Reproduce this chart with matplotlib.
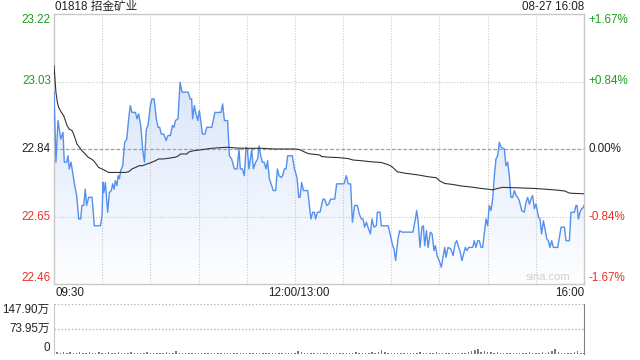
import numpy as np
import matplotlib
matplotlib.use("Agg")
import matplotlib.pyplot as plt
from matplotlib.colors import LinearSegmentedColormap

plt.rcParams['font.family'] = ['Liberation Sans', 'Noto Sans CJK SC', 'DejaVu Sans']

# ---------------- data ----------------
title = "01818 招金矿业"
stamp = "08-27 16:08"
prev_close = 22.84
y_ticks = [23.22, 23.03, 22.84, 22.65, 22.46]
pct_labels = ["+1.67%", "+0.84%", "0.00%", "-0.84%", "-1.67%"]
time_labels = ["09:30", "12:00/13:00", "16:00"]
vol_labels = ["147.90万", "73.95万", "0"]
vol_max = 147.90

# minutes of trading (0 = 09:30, 150 = 12:00/13:00, 330 = 16:00)
price_t = [0, 1.2, 2.5, 4.2, 5.6, 6.4, 7.9, 8.7, 9.5, 10.6, 11.6, 12.9, 14.1, 15.4, 16.6,
           17.4, 18.5, 19.5, 20.3, 21.6, 23.7, 25.1, 28.9, 29.9, 30.5, 31.1, 32.0, 32.6,
           33.4, 34.5, 35.7, 36.5, 37.4, 38.2, 39.2, 39.9, 40.7, 41.5, 42.8, 44.0, 45.3,
           46.5, 47.5, 48.6, 50.7, 51.7, 52.7, 54.0, 55.2, 56.3, 57.5, 58.5, 60.0, 61.0,
           62.3, 63.7, 64.8, 65.8, 66.8, 68.3, 69.8, 71.0, 72.5, 73.7, 74.7, 75.6, 77.2,
           78.5, 79.7, 82.8,
           83.6, 84.7, 85.7, 86.3, 87.4, 88.4, 89.5, 90.5, 91.5, 92.4, 94.0, 95.1, 98.2,
           100.2, 104.0, 105.0, 106.1, 108.1, 109.2, 110.6, 112.3, 114.0, 115.2, 116.0,
           117.3, 118.5, 119.6, 120.4, 121.4, 122.3, 123.1, 124.1, 125.6, 126.8, 127.7,
           128.7, 129.7, 130.8, 132.0, 133.0, 134.1, 135.5, 136.6, 138.0, 139.1, 140.1,
           141.4, 142.4, 143.4, 144.5, 145.5, 148.4, 149.7, 151.3, 152.4, 153.2, 154.2,
           155.3, 158.0, 159.0, 160.0, 161.1, 162.1, 162.9, 164.0, 165.6,
           167.5, 168.5, 169.8, 171.0, 172.3, 174.8, 176.0, 180.6, 182.0, 183.1, 184.7,
           185.8, 187.2, 188.9, 190.1, 191.4, 192.4, 193.4, 194.5, 195.5, 197.0, 198.0,
           199.2, 200.7, 201.3, 203.0, 203.8, 208.0, 209.0, 210.9, 211.7, 212.7, 214.2,
           215.2, 216.7, 223.5, 225.0, 225.8, 226.7, 227.9, 229.1, 230.0, 230.8, 231.9,
           232.9, 234.3, 235.4, 236.6, 237.5, 238.5, 240.2, 241.2, 242.2, 243.3, 244.1,
           245.3, 247.0, 248.5,
           249.7, 250.7, 251.7, 253.0, 254.0, 255.1, 256.1, 257.1, 258.2, 260.7, 261.7,
           262.7, 263.8, 264.8, 265.9, 266.9, 267.9, 269.0, 270.0, 271.0, 272.1, 273.1,
           274.2, 275.2, 276.2, 277.3, 278.3, 280.4, 281.4, 282.5, 283.5, 284.5, 285.6,
           286.6, 287.7, 288.7, 289.7, 291.2, 292.8, 293.9, 294.9, 296.0, 297.0, 298.0,
           299.1, 300.1, 300.7, 301.6, 302.6, 303.6, 304.7, 305.7, 306.8, 307.8, 308.8,
           309.9, 310.9, 313.6, 314.7, 315.7, 317.8, 318.8, 320.9, 321.9, 324.0, 325.0,
           325.7, 326.5, 327.5, 328.6, 329.8, 330.0]
price_v = [23.000, 22.803, 22.920, 22.868, 22.887, 22.803, 22.803, 22.821, 22.784, 22.803,
           22.774, 22.737, 22.709, 22.643, 22.643, 22.681, 22.681, 22.727, 22.681, 22.704,
           22.704, 22.624, 22.624, 22.652, 22.746, 22.718, 22.746, 22.709, 22.662, 22.718,
           22.723, 22.742, 22.727, 22.751, 22.737, 22.765, 22.756, 22.779, 22.793, 22.859,
           22.868, 22.925, 22.962, 22.943, 22.943, 22.925, 22.939, 22.906, 22.840, 22.803,
           22.896, 22.906, 22.962, 22.981, 22.981, 22.925, 22.901, 22.901, 22.882, 22.882,
           22.864, 22.878, 22.878, 22.906, 22.901, 22.920, 22.925, 23.028, 23.000, 23.000,
           23.000, 22.981, 22.981, 22.925, 22.962, 22.939, 22.920, 22.948, 22.915, 22.882,
           22.882, 22.901, 22.901, 22.943, 22.943, 22.967, 22.920, 22.920, 22.821, 22.812,
           22.784, 22.784, 22.840, 22.784, 22.784, 22.765, 22.845, 22.840, 22.784, 22.812,
           22.840, 22.784, 22.803, 22.812, 22.849, 22.821, 22.803, 22.803, 22.784, 22.807,
           22.756, 22.737, 22.723, 22.723, 22.784, 22.765, 22.760, 22.765, 22.784, 22.784,
           22.821, 22.821, 22.784, 22.760, 22.704, 22.704, 22.746, 22.723, 22.723, 22.681,
           22.643, 22.662, 22.662, 22.643, 22.662, 22.662,
           22.699, 22.699, 22.681, 22.685, 22.699, 22.699, 22.742, 22.742, 22.765, 22.742,
           22.742, 22.634, 22.681, 22.681, 22.657, 22.643, 22.643, 22.620, 22.634, 22.620,
           22.601, 22.643, 22.620, 22.624, 22.662, 22.662, 22.624, 22.624, 22.606, 22.568,
           22.559, 22.526, 22.587, 22.610, 22.606, 22.606, 22.643, 22.667, 22.638, 22.563,
           22.620, 22.624, 22.568, 22.610, 22.563, 22.606, 22.601, 22.554, 22.568, 22.540,
           22.521, 22.507, 22.535, 22.563, 22.535, 22.563, 22.559, 22.540,
           22.573, 22.582, 22.568, 22.549, 22.526, 22.545, 22.563, 22.554, 22.563, 22.563,
           22.582, 22.563, 22.582, 22.582, 22.563, 22.563, 22.601, 22.643, 22.624, 22.681,
           22.667, 22.699, 22.765, 22.812, 22.821, 22.859, 22.845, 22.840, 22.793, 22.803,
           22.765, 22.704, 22.704, 22.723, 22.709, 22.704, 22.695, 22.667, 22.662, 22.690,
           22.704, 22.685, 22.699, 22.709, 22.672, 22.685, 22.672, 22.648, 22.643, 22.601,
           22.638, 22.615, 22.587, 22.582, 22.563, 22.582, 22.563, 22.563, 22.591, 22.620,
           22.620, 22.582, 22.582, 22.662, 22.662, 22.681, 22.681, 22.643, 22.662, 22.672,
           22.676, 22.681]

avg_t = [0, 1.2, 2.1, 2.9, 4.6, 6.0, 7.1, 8.1, 9.5, 11.2, 12.2, 13.3, 14.3, 15.8, 17.4,
         19.5, 21.2, 23.2, 24.7, 26.2, 27.8, 29.9, 32.0, 34.0, 44.4, 46.5, 48.6, 50.7,
         53.1, 55.2, 57.9, 60.0, 63.1, 65.2, 68.3, 71.4, 75.6, 77.6, 78.7, 82.8,
         83.6, 86.8, 91.9, 98.2, 104.4, 108.6, 112.7, 118.9, 129.3, 137.6, 150.1, 153.2,
         155.3, 158.4, 165.6, 166.5, 170.6, 176.8, 183.1, 186.2, 191.4, 197.6, 203.8,
         208.0, 210.5, 213.8, 218.3, 226.7, 232.9, 238.1, 240.2, 243.3, 248.5,
         253.4, 259.6, 265.9, 270.0, 273.1, 276.2, 279.4, 286.6, 292.8, 299.1, 305.3,
         311.5, 317.8, 320.9, 324.0, 330.0]
avg_v = [23.075, 23.000, 22.971, 22.957, 22.943, 22.934, 22.920, 22.906, 22.896, 22.892,
         22.882, 22.868, 22.854, 22.845, 22.835, 22.826, 22.817, 22.812, 22.807, 22.798,
         22.788, 22.784, 22.779, 22.774, 22.774, 22.776, 22.784, 22.788, 22.793, 22.793,
         22.798, 22.801, 22.807, 22.812, 22.812, 22.814, 22.817, 22.821, 22.826, 22.826,
         22.831, 22.835, 22.838, 22.842, 22.844, 22.845, 22.843, 22.842, 22.842, 22.840,
         22.840, 22.838, 22.833, 22.827, 22.823, 22.819, 22.817, 22.816, 22.813, 22.809,
         22.807, 22.804, 22.802, 22.796, 22.790, 22.776, 22.772, 22.767, 22.762, 22.759,
         22.750, 22.743, 22.740,
         22.736, 22.733, 22.729, 22.727, 22.725, 22.729, 22.732, 22.731, 22.730, 22.729,
         22.727, 22.725, 22.722, 22.716, 22.715, 22.714]

# volume in 万, one bar per 2 minutes from 09:30
volume = [12, 5, 4, 6, 3, 5, 4, 3, 5, 4,
          3, 5, 3, 4, 6, 3, 4, 5, 3, 4,
          5, 3, 4, 3, 5, 4, 3, 4, 3, 5,
          3, 4, 3, 4, 3, 5, 3, 4, 9, 4,
          3, 4, 3, 4, 3, 4, 3, 3, 4, 3,
          4, 3, 4, 3, 3, 4, 3, 4, 3, 4,
          3, 4, 3, 3, 4, 3, 4, 3, 4, 3,
          3, 4, 3, 4, 3, 4, 8, 5, 3, 4,
          3, 4, 3, 3, 4, 3, 4, 3, 4, 3,
          4, 3, 4, 3, 5, 3, 4, 3, 4, 5,
          4, 6, 11, 5, 4, 3, 4, 3, 4, 3,
          4, 3, 4, 3, 5, 4, 3, 4, 3, 6,
          4, 3, 4, 3, 4, 3, 4, 3, 4, 5,
          9, 12, 15, 7, 10, 6, 5, 4, 5, 4,
          3, 4, 3, 4, 3, 4, 3, 4, 5, 4,
          3, 4, 5, 4, 6, 9, 14, 5, 4, 3,
          4, 3, 5, 8, 4, 3]

# ---------------- style ----------------
W, H = 640, 360
GREEN = "#1a9f1a"
RED = "#e8322a"
DARK = "#222222"
GRID = "#c8c8c8"
BLUE = "#5590ec"
FS = 8.4

def fx(px):
    return px / W

def fy(py):
    return 1 - py / H

fig = plt.figure(figsize=(6.4, 3.6), dpi=100)
fig.patch.set_facecolor("white")

L, R = 54, 584
ax = fig.add_axes([fx(L), fy(284), fx(R) - fx(L), fy(14) - fy(284)])
axv = fig.add_axes([fx(L), fy(354), fx(R) - fx(L), fy(304) - fy(354)])

ymin, ymax = y_ticks[-1], y_ticks[0]
ax.set_xlim(0, 330)
ax.set_ylim(ymin, ymax)

# gradient fill under price line
cmap = LinearSegmentedColormap.from_list("g", ["#fdfeff", "#cfdef8"])
grad = np.linspace(0, 1, 256).reshape(-1, 1)
im = ax.imshow(grad, extent=[0, 330, ymin, ymax], origin="lower", aspect="auto",
               cmap=cmap, zorder=1)
poly = ax.fill_between(price_t, price_v, ymin, color="none", lw=0)
im.set_clip_path(poly.get_paths()[0], transform=ax.transData)

# grid
for k in range(1, 11):
    ax.axvline(30 * k, color=GRID, lw=0.8, ls=(0, (1, 1.5)), zorder=2)
for v in (y_ticks[1], y_ticks[3]):
    ax.axhline(v, color=GRID, lw=0.8, ls=(0, (1, 1.5)), zorder=2)
ax.axhline(prev_close, color="#a0a0a0", lw=0.9, ls=(0, (3, 1.5)), zorder=2)

ax.plot(price_t, price_v, color=BLUE, lw=1.0, zorder=4)
ax.plot(avg_t, avg_v, color="#333333", lw=0.8, zorder=5)

ax.set_xticks([])
ax.set_yticks([])
for s in ax.spines.values():
    s.set_color("#c8c8c8")
    s.set_linewidth(1.0)

# y labels
colors = [GREEN, GREEN, DARK, RED, RED]
tr = ax.get_yaxis_transform()
for i, (v, p, c) in enumerate(zip(y_ticks, pct_labels, colors)):
    va = "center"
    if i == 0:
        va = "top"
    elif i == len(y_ticks) - 1:
        va = "bottom"
    ax.text(-0.006, v, f"{v:.2f}", transform=tr, ha="right", va=va,
            color=c, fontsize=FS)
    ax.text(1.009, v, p, transform=tr, ha="left", va=va, color=c, fontsize=FS)

ax.text(0.975, ymin + 0.005, "sina.com", transform=tr, ha="right", va="bottom",
        color="#d0d0d0", fontsize=8)

# header
fig.text(fx(55), fy(7), title, ha="left", va="center", fontsize=FS, color=DARK)
fig.text(fx(584), fy(7), stamp, ha="right", va="center", fontsize=FS, color=DARK)

# time labels
fig.text(fx(55), fy(293), time_labels[0], ha="left", va="center", fontsize=FS, color=DARK)
fig.text(fx(299), fy(293), time_labels[1], ha="center", va="center", fontsize=FS, color=DARK)
fig.text(fx(584), fy(293), time_labels[2], ha="right", va="center", fontsize=FS, color=DARK)

# volume panel
vt = np.arange(len(volume)) * 2
axv.bar(vt, volume, width=0.9, color="#7a7a7a", linewidth=0)
axv.set_xlim(0, 330)
axv.set_ylim(0, vol_max)
axv.axhline(vol_max, color="#b8b8b8", lw=1.0, ls=(0, (1, 1.5)))
axv.axhline(vol_max / 2, color="#b8b8b8", lw=1.0, ls=(0, (1, 1.5)))
axv.set_xticks([])
axv.set_yticks([])
axv.spines["top"].set_visible(False)
axv.spines["bottom"].set_visible(False)
axv.spines["left"].set_color("#c8c8c8")
axv.spines["right"].set_color("#808080")
trv = axv.get_yaxis_transform()
axv.text(-0.008, vol_max, vol_labels[0], transform=trv, ha="right", va="top",
         fontsize=FS, color=DARK)
axv.text(-0.008, vol_max / 2, vol_labels[1], transform=trv, ha="right", va="center",
         fontsize=FS, color=DARK)
axv.text(-0.008, 0, vol_labels[2], transform=trv, ha="right", va="bottom",
         fontsize=FS, color=DARK)

fig.savefig("out.png", dpi=100)
